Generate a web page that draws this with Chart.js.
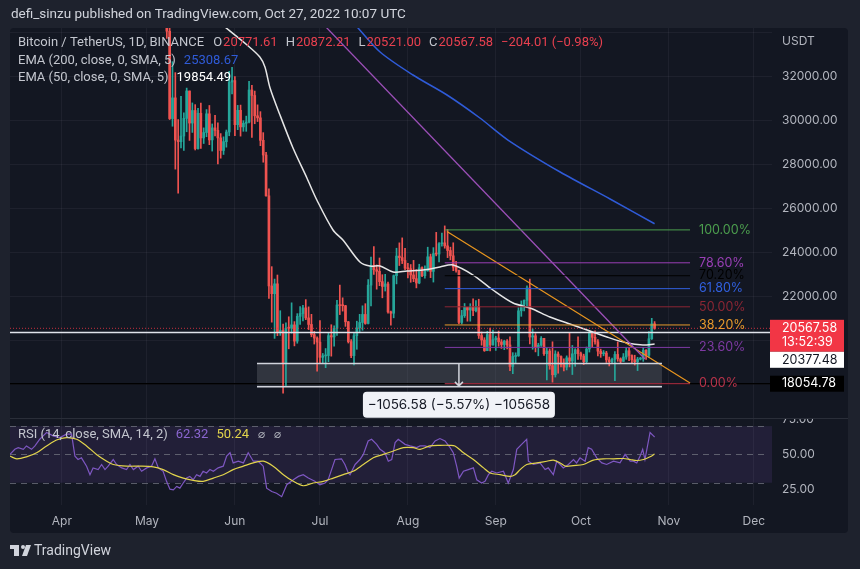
<!DOCTYPE html>
<html>
<head>
<meta charset="utf-8">
<script src="https://cdn.jsdelivr.net/npm/chart.js@4.4.0/dist/chart.umd.min.js"></script>
<style>
  html, body { margin: 0; padding: 0; background: #1e222d; }
  canvas { display: block; }
</style>
</head>
<body>
<canvas id="c" width="860" height="569"></canvas>
<script>
// days are counted from 1 Apr 2022 (day 0)
var firstDay = 34; // 5 May 2022

var opens = [
  39690,36552,36013,35472,34039,30077,31017,29103,29030,29287,30086,31329,29874,30444,28715,30319,29201,29445,30294,29110,29655,29543,29201,28630,29032,29468,31734,
  31802,29800,30452,29700,29865,29919,31373,31125,30204,30110,29091,28425,26574,22488,22136,22584,20401,20468,18970,20574,20573,20723,19987,21110,21237,21492,21038,20742,20281,20124,
  19943,19252,19315,19331,20235,20175,20564,21624,21595,21591,20862,19963,19328,20234,20588,20831,21196,20786,22525,23410,23223,23152,22684,22465,22579,21311,21251,22953,23842,23774,23643,
  23296,23269,22988,22818,22622,23313,22955,23175,23810,23149,23954,23934,24403,24441,24305,24094,23854,23342,23191,20834,21140,21516,21400,21529,21368,21559,20241,20037,19555,20285,19811,
  20050,20127,19952,19832,19986,19812,18837,19290,19319,21361,21652,21836,22396,20173,20227,19701,19803,20113,19417,19538,18876,18461,19401,19289,18920,18807,19227,19080,19412,19591,
  19422,19310,19056,19629,20337,20158,19955,19531,19417,19446,19138,19053,19158,19383,19185,19068,19268,19550,19334,19139,19053,19172,19208,19567,19345,20095,20771.61
];
var highs = [
  39845,36675,36146,35502,34243,32659,32162,30033,31083,30343,31460,31329,30788,30709,30545,30777,29656,30487,30672,29834,30223,29885,29397,29250,29560,32222,32399,
  31982,30677,30689,29982,30189,31765,31589,31325,30700,30392,29440,28544,26895,23363,22800,22984,21365,20758,20815,21090,21723,20871,21233,21558,21614,21868,21540,21200,20432,20179,
  20918,19426,19650,20357,20730,20675,21839,22527,21950,21608,20880,20055,20366,20890,21200,21588,21684,22777,23800,24276,23442,23756,22998,23014,22666,21347,22986,24199,24442,24668,24194,
  23509,23459,23648,23226,23472,23354,23400,24245,23933,24226,24918,24456,24888,25211,25050,24247,24446,23600,23208,21382,21692,21522,21684,21900,21819,21886,20402,20142,20433,20575,20490,
  20208,20444,20057,20029,20055,20180,19464,19457,21500,21809,21860,22488,22799,20541,20330,19890,20189,20113,19686,19634,19956,19550,19500,19316,19180,19318,20385,19790,19645,20185,
  19484,19395,19719,20475,20365,20456,20060,19623,19559,19525,19264,19216,19513,19952,19228,19424,19690,19705,19361,19347,19250,19248,19700,19601,20415,21020,20872.21
];
var lows = [
  35571,35258,34785,33714,30033,29730,27785,26700,28751,28630,29480,29087,29450,28654,28693,28730,28947,29255,28894,28604,29295,28019,28282,28450,28781,29299,31200,
  29301,29575,29282,29500,29500,29880,29218,29844,29944,28850,28099,26560,21925,20846,20111,20232,20246,17622,17960,19637,20348,19770,19890,20740,20906,20960,20510,20183,19854,18626,
  18975,18975,18781,19055,19304,19761,20249,21189,21347,20655,19900,19240,18910,19616,20382,20478,20750,20763,21581,23012,22342,22500,21950,22257,21250,20706,21043,22582,23414,23502,23227,
  22850,22654,22681,22400,22587,22909,22841,23154,22865,22664,23852,23583,24296,24200,23773,23671,23180,23110,20783,20761,21060,20890,20890,21145,21310,20107,19800,19521,19550,19540,19800,
  19565,19754,19656,19600,19636,18649,18510,19011,19297,21111,21350,21538,19860,19617,19497,19320,19748,19338,18232,18711,18125,18356,18531,18817,18634,18680,18816,18471,18843,19155,
  19159,18920,18959,19490,19730,19853,19320,19250,19320,19020,18860,18993,18190,19070,18975,19063,19160,19095,19000,18900,18650,19132,19070,19157,19240,20060,20521.00
];
var closes = [
  36552,36013,35472,34039,30077,31017,29103,29030,29287,30086,31329,29874,30444,28715,30319,29201,29445,30294,29110,29655,29543,29201,28630,29032,29468,31734,31802,
  29800,30452,29700,29865,29919,31373,31125,30204,30110,29091,28425,26574,22488,22136,22584,20401,20468,18970,20574,20573,20723,19987,21110,21237,21492,21038,20742,20281,20124,19943,
  19252,19315,19331,20235,20175,20564,21624,21595,21591,20862,19963,19328,20234,20588,20831,21196,20786,22525,23410,23223,23152,22684,22465,22579,21311,21251,22953,23842,23774,23643,23293,
  23269,22988,22818,22622,23313,22955,23175,23810,23149,23954,23934,24403,24441,24305,24094,23854,23342,23191,20834,21140,21516,21400,21529,21368,21559,20241,20037,19555,20285,19811,20050,
  20127,19952,19832,19986,19812,18837,19290,19319,21361,21652,21836,22396,20173,20227,19701,19803,20113,19417,19538,18876,18461,19401,19289,18920,18807,19227,19080,19412,19591,19422,
  19310,19056,19629,20337,20158,19955,19531,19417,19446,19138,19053,19158,19383,19185,19068,19268,19550,19334,19139,19053,19172,19208,19567,19345,20095,20772,20567.58
];

var ema200Days = [104.1, 112.2, 123.8, 135.8, 147.4, 157.3, 175.7, 193.3, 209];
var ema200Vals = [34231, 33097, 32054, 31147, 30104, 29106, 27655, 26431, 25308.67];

var ema50Days = [57.5, 65.3, 69.8, 71.6, 73.4, 76.9, 81.5, 86.4, 89.9, 95.6, 99.1, 105.1, 108.6, 112.2, 116.8, 121.7, 127.3, 133.3, 137.9, 145.0, 152.0, 159.1, 165.1, 172.1, 178.1, 185.2, 192.2, 199.3, 204.9, 209];
var ema50Vals = [34231, 33415, 32871, 32417, 31465, 30240, 28744, 27383, 26385, 25025, 24571, 23574, 23392, 23392, 23120, 23166, 23211, 23347, 23438, 22984, 22304, 21714, 21488, 21079, 20807, 20490, 20172, 19900, 19810, 19854.49];

var rsiDays = [-18.3,-16.6,-15.4,-13.6,-12.5,-10.7,-9.5,-7.8,-6.6,-5.4,-3.1,-0.7,1.6,3.4,4.6,5.7,6.9,8.7,9.9,11.0,12.8,14.0,15.2,16.3,18.1,19.3,21.1,22.8,24.0,25.2,26.9,28.1,29.9,31.6,32.8,34.0,35.7,36.9,38.1,39.3,40.5,41.6,42.8,44.0,45.1,46.3,47.5,48.7,49.8,51.0,52.2,53.4,55.1,56.9,58.1,59.3,60.4,62.2,64.0,65.7,67.5,69.2,71.0,72.2,74.0,75.7,77.5,79.3,81.6,83.4,85.1,86.9,89.2,91.0,92.8,93.9,95.1,96.3,98.6,99.8,101.0,101.6,103.4,105.1,106.3,108.0,109.2,111.0,112.2,113.9,115.1,116.3,117.5,118.6,121.0,122.8,125.1,126.3,128.0,129.8,131.6,133.3,135.1,136.9,138.0,139.2,140.1,141.6,143.3,145.1,146.3,148.0,149.2,150.4,151.6,153.3,155.7,157.4,159.2,160.4,162.1,163.9,164.5,166.3,168.6,170.4,171.5,173.3,174.5,175.7,176.8,178.6,180.4,181.5,182.7,184.5,185.6,186.8,188.6,190.4,192.1,194.5,196.8,198.6,200.4,201.5,202.7,203.9,204.8,205.6,207.4,208.6,209];
var rsiVals = [50.0,53.6,54.8,53.6,56.0,53.6,56.0,60.7,63.1,65.5,63.1,61.9,64.3,64.3,48.8,46.4,47.6,41.7,35.7,40.5,39.3,42.9,39.3,41.7,46.4,42.9,40.5,39.3,42.9,39.3,41.7,38.1,40.5,41.7,46.9,40.5,38.1,31.0,25.5,25.0,27.4,26.2,29.8,33.3,34.5,32.1,35.7,34.5,38.1,36.9,39.3,38.1,40.5,41.7,48.8,51.2,44.0,45.2,44.0,51.2,45.2,45.2,41.7,26.2,23.8,22.6,20.2,28.6,32.1,34.5,35.7,33.3,31.0,28.6,29.8,32.1,39.3,46.4,46.9,42.9,36.9,35.7,42.9,46.4,50.0,59.5,60.7,57.1,53.6,51.2,45.2,46.4,58.3,60.7,57.1,56.0,54.8,56.0,56.0,54.8,59.5,61.2,59.5,54.8,51.2,41.7,33.3,38.1,39.3,40.5,32.1,29.8,31.0,35.7,38.1,36.9,38.1,29.8,39.3,53.6,57.1,60.7,45.2,42.9,44.0,39.3,40.5,35.7,45.2,42.9,40.5,42.9,46.4,44.0,47.6,45.2,54.8,53.6,47.6,44.0,42.9,45.2,44.0,50.0,45.2,45.2,44.0,48.8,53.6,46.4,65.5,63.1,62.32];

var rsiMaDays = [-18.3,-15.9,-12.5,-8.9,-5.4,-1.9,1.6,5.2,8.7,12.2,15.8,18.1,22.8,27.5,32.2,35.7,39.3,42.8,46.3,49.8,53.4,56.9,60.4,64.0,67.5,71.0,74.5,78.1,81.6,85.1,88.6,92.2,95.7,99.2,102.7,106.3,109.8,113.3,116.9,120.4,123.9,126.3,129.8,133.3,136.9,138.6,141.6,145.1,148.7,151.0,154.5,158.0,159.8,161.6,163.9,167.5,171.0,173.3,175.7,177.5,180.4,183.9,187.4,190.9,194.5,198.0,200.4,202.7,205.1,207.4,209];
var rsiMaVals = [48.8,46.9,48.3,51.2,56.0,60.2,61.9,60.7,56.0,50.0,45.2,42.9,41.7,41.7,41.2,39.3,35.7,33.3,31.7,31.0,33.3,35.7,39.3,41.7,44.0,45.2,41.7,35.7,31.0,27.9,29.8,31.0,33.3,35.7,38.1,42.9,47.6,50.0,52.4,54.8,54.8,53.6,56.0,56.4,56.4,56.0,51.2,46.4,40.5,36.9,35.7,34.5,35.7,39.3,42.9,44.0,45.2,46.0,44.0,41.7,42.1,42.9,46.0,46.9,46.9,47.1,46.4,45.7,46.4,48.3,50.24];

var monthDays = [0, 30, 61, 91, 122, 153, 183, 214, 244];
var monthLabels = ['Apr', 'May', 'Jun', 'Jul', 'Aug', 'Sep', 'Oct', 'Nov', 'Dec'];
var priceGrid = [18000, 20000, 22000, 24000, 26000, 28000, 30000, 32000, 34000];
var priceLabels = [22000, 24000, 26000, 28000, 30000, 32000];
var rsiTicks = [25, 50, 75];

var fibRatios = [0, 0.236, 0.382, 0.5, 0.618, 0.702, 0.786, 1];
var fibLabels = ['0.00%', '23.60%', '38.20%', '50.00%', '61.80%', '70.20%', '78.60%', '100.00%'];
var fibLow = 18054.78, fibHigh = 25030;
var fibDays = [135, 221.5];

var purpleDays = [93.1, 205.6], purplePrices = [34231, 19175];
var orangeDays = [135.8, 221.5], orangePrices = [24961, 18086];

var lastPrice = 20567.58;
var whiteLevel = 20377.48;
var blackLevel = 18054.78;

var measureDays = [68.8, 211.6], measurePrices = [18969, 17912.42], measureArrowDay = 140;

var xMin = -18.3, xMax = 250.4;
var yMin = 16500, yMax = 34185;

// ---- styles ----
var UP = '#26a69a', DOWN = '#ef5350';
var GRID = 'rgba(240,243,250,0.05)';
var fibColors = ['#b8334a', '#7e3aa3', '#e89a2c', '#8c2634', '#3160e0', '#000000', '#9a3fb6', '#4c9e4e'];
var TXT = "Roboto, 'Noto Sans', sans-serif";

Chart.defaults.font.family = "Inter, 'Noto Sans', sans-serif";
Chart.defaults.font.size = 12;
Chart.defaults.color = '#b2b5be';

function pts(days, vals) {
    return days.map(function (d, i) { return { x: d, y: vals[i] }; });
}
function candleColor(ctx) {
    var i = ctx.dataIndex;
    return closes[i] >= opens[i] ? UP : DOWN;
}
function lineSet(data, color, width, order, extra) {
    var ds = { type: 'line', data: data, borderColor: color, borderWidth: width, pointRadius: 0, fill: false, order: order, yAxisID: 'y' };
    for (var k in extra) ds[k] = extra[k];
    return ds;
}

var datasets = [];
fibRatios.forEach(function (r, i) {
    var p = fibLow + r * (fibHigh - fibLow);
    datasets.push(lineSet(pts(fibDays, [p, p]), fibColors[i], 1, 0));
});
datasets.push(lineSet(pts(purpleDays, purplePrices), '#9c4fb8', 1.3, 0));
datasets.push(lineSet(pts(orangeDays, orangePrices), '#e8951e', 1.2, 0));
datasets.push(lineSet(pts([xMin, xMax], [lastPrice, lastPrice]), 'rgba(242,54,69,0.8)', 1, 0, { borderDash: [1, 2] }));
datasets.push(lineSet(pts([xMin, xMax], [whiteLevel, whiteLevel]), '#e0e3eb', 1.5, 0));
datasets.push(lineSet(pts([xMin, xMax], [blackLevel, blackLevel]), '#000000', 1.5, 5));
datasets.push(lineSet(pts(ema200Days, ema200Vals), '#2f5bd8', 1.5, 1, { tension: 0.3 }));
datasets.push(lineSet(pts(ema50Days, ema50Vals), '#e6e6e6', 1.5, 1, { tension: 0.3 }));
datasets.push({
    type: 'bar', yAxisID: 'y', order: 2, grouped: false, barThickness: 2, minBarLength: 1, borderWidth: 0,
    data: opens.map(function (o, i) { return { x: firstDay + i, y: [o, closes[i]] }; }),
    backgroundColor: candleColor
});
datasets.push({
    type: 'bar', yAxisID: 'y', order: 3, grouped: false, barThickness: 1, minBarLength: 1, borderWidth: 0,
    data: opens.map(function (o, i) { return { x: firstDay + i, y: [lows[i], highs[i]] }; }),
    backgroundColor: candleColor
});
datasets.push({ type: 'line', yAxisID: 'rsi', order: 1, data: pts(rsiDays, rsiVals), borderColor: '#7e57c2', borderWidth: 1.2, pointRadius: 0, fill: false });
datasets.push({ type: 'line', yAxisID: 'rsi', order: 0, data: pts(rsiMaDays, rsiMaVals), borderColor: '#e2d44c', borderWidth: 1.2, pointRadius: 0, fill: false, tension: 0.3 });

function txt(c, s, x, y, color, font, align) {
    c.font = font || ("13px " + TXT);
    c.fillStyle = color;
    c.textAlign = align || 'left';
    c.textBaseline = 'middle';
    c.fillText(s, x, y);
    return x + c.measureText(s).width;
}
// draw pieces one after another: [text, colour, gap after]
function row(c, parts, x, y, font) {
    parts.forEach(function (p) {
        x = txt(c, p[0], x, y, p[1], font) + (p[2] || 0);
    });
}

var overlay = {
    id: 'overlay',
    beforeDraw: function (chart) {
        var c = chart.ctx, a = chart.chartArea, sx = chart.scales.x, sy = chart.scales.y, sr = chart.scales.rsi;
        c.save();
        c.fillStyle = '#1e222d';
        c.fillRect(0, 0, chart.width, chart.height);
        c.fillStyle = '#131722';
        c.beginPath();
        c.roundRect(a.left, a.top, sy.right - a.left, sx.bottom - a.top, 4);
        c.fill();
        // rsi band
        var y70 = sr.getPixelForValue(70), y30 = sr.getPixelForValue(30);
        c.fillStyle = 'rgba(126,87,194,0.14)';
        c.fillRect(a.left, y70, a.right - a.left, y30 - y70);
        c.restore();
    },
    beforeDatasetsDraw: function (chart) {
        var c = chart.ctx, a = chart.chartArea, sx = chart.scales.x, sy = chart.scales.y, sr = chart.scales.rsi;
        c.save();
        // main pane covers the top half of the 75.00 label, as in the original
        c.fillStyle = '#131722';
        c.fillRect(sy.left, sr.top - 12, sy.right - sy.left, 12);
        // pane separator
        c.strokeStyle = '#2a2e39';
        c.lineWidth = 1;
        c.beginPath();
        c.moveTo(a.left, Math.round(sr.top) + 0.5);
        c.lineTo(sy.right, Math.round(sr.top) + 0.5);
        c.stroke();
        // rsi dashed levels
        c.strokeStyle = 'rgba(120,123,134,0.7)';
        c.setLineDash([6, 5]);
        [70, 50, 30].forEach(function (v) {
            var y = Math.round(sr.getPixelForValue(v)) + 0.5;
            c.beginPath();
            c.moveTo(a.left, y);
            c.lineTo(a.right - 6, y);
            c.stroke();
        });
        c.setLineDash([]);
        // measurement box
        var x0 = sx.getPixelForValue(measureDays[0]), x1 = sx.getPixelForValue(measureDays[1]);
        var yt = sy.getPixelForValue(measurePrices[0]), yb = sy.getPixelForValue(measurePrices[1]);
        c.fillStyle = 'rgba(120,123,134,0.30)';
        c.fillRect(x0, yt, x1 - x0, yb - yt);
        c.restore();
    },
    afterDatasetsDraw: function (chart) {
        var c = chart.ctx, sx = chart.scales.x, sy = chart.scales.y;
        c.save();
        var x0 = sx.getPixelForValue(measureDays[0]), x1 = sx.getPixelForValue(measureDays[1]);
        var yt = sy.getPixelForValue(measurePrices[0]), yb = sy.getPixelForValue(measurePrices[1]);
        c.strokeStyle = '#d1d4dc';
        c.lineWidth = 1.5;
        c.beginPath();
        c.moveTo(x0, yt); c.lineTo(x1, yt);
        c.moveTo(x0, yb); c.lineTo(x1, yb);
        var xa = sx.getPixelForValue(measureArrowDay);
        c.moveTo(xa, yt); c.lineTo(xa, yb - 1);
        c.moveTo(xa - 4, yb - 5); c.lineTo(xa, yb - 1); c.lineTo(xa + 4, yb - 5);
        c.stroke();
        // fib labels
        var xl = sx.getPixelForValue(fibDays[1]) + 9;
        fibRatios.forEach(function (r, i) {
            var p = fibLow + r * (fibHigh - fibLow);
            txt(c, fibLabels[i], xl, sy.getPixelForValue(p), fibColors[i], "12.5px Inter");
        });
        // measurement label
        var lw = 192, lh = 26, ly = yb + 5;
        c.fillStyle = '#f0f2f7';
        c.beginPath();
        c.roundRect(xa - lw / 2, ly, lw, lh, 4);
        c.fill();
        txt(c, '\u22121056.58 (\u22125.57%) \u2212105658', xa, ly + lh / 2, '#131722', "13.5px Inter", 'center');
        c.restore();
    },
    afterDraw: function (chart) {
        var c = chart.ctx, sy = chart.scales.y;
        c.save();
        // header
        txt(c, 'defi_sinzu published on TradingView.com, Oct 27, 2022 10:07 UTC', 11, 15, '#d1d4dc', "13.5px " + TXT);
        // legend
        var lg = '#c3c6ce', red = '#e8404f';
        row(c, [['Bitcoin / TetherUS, 1D, BINANCE', lg, 9],
                ['O', lg, 1], ['20771.61', red, 8],
                ['H', lg, 1], ['20872.21', red, 8],
                ['L', lg, 1], ['20521.00', red, 8],
                ['C', lg, 1], ['20567.58', red, 8],
                ['\u2212204.01 (\u22120.98%)', red, 0]], 18, 43, "13px " + TXT);
        row(c, [['EMA (200, close, 0, SMA, 5)', lg, 8], ['25308.67', '#2f5bd8', 0]], 18, 61, "13px " + TXT);
        row(c, [['EMA (50, close, 0, SMA, 5)', lg, 8], ['19854.49', '#ffffff', 0]], 18, 78, "13px " + TXT);
        // rsi legend
        row(c, [['RSI (14, close, SMA, 14, 2)', lg, 8], ['62.32', '#8b66d0', 8], ['50.24', '#e2d44c', 8]], 18, 435, "13px " + TXT);
        txt(c, '\u2300', 258, 435, '#b2b5be', "12px 'DejaVu Sans'");
        txt(c, '\u2300', 274, 435, '#b2b5be', "12px 'DejaVu Sans'");
        // price axis
        var lx = sy.left + 10, bx = sy.left - 2, bw = sy.right - sy.left - 2;
        txt(c, 'USDT', lx, 41, '#b2b5be', "12px Inter");
        var yr = sy.getPixelForValue(lastPrice);
        c.fillStyle = '#f23645';
        c.fillRect(bx, yr - 8.5, bw, 32);
        txt(c, '20567.58', lx, yr, '#ffffff', "12.5px Inter");
        txt(c, '13:52:39', lx, yr + 14, '#ffffff', "12.5px Inter");
        var yw = Math.max(sy.getPixelForValue(whiteLevel) - 8, yr + 23.5);
        c.fillStyle = '#ffffff';
        c.fillRect(bx, yw, bw, 16);
        txt(c, '20377.48', lx, yw + 8, '#131722', "12.5px Inter");
        var yk = sy.getPixelForValue(blackLevel);
        c.fillStyle = '#000000';
        c.fillRect(bx, yk - 8, bw, 16);
        txt(c, '18054.78', lx, yk, '#ffffff', "12.5px Inter");
        // footer logo
        c.fillStyle = '#d1d4dc';
        c.fillRect(10, 545, 9, 4);
        c.fillRect(14, 545, 5, 11);
        c.beginPath(); c.arc(23, 547, 2, 0, Math.PI * 2); c.fill();
        c.beginPath();
        c.moveTo(26, 545); c.lineTo(31, 545); c.lineTo(27, 556); c.lineTo(22, 556);
        c.closePath(); c.fill();
        txt(c, 'TradingView', 34, 551, '#d1d4dc', "14px " + TXT);
        c.restore();
    }
};

new Chart(document.getElementById('c'), {
    type: 'bar',
    data: { datasets: datasets },
    options: {
        responsive: false,
        animation: false,
        devicePixelRatio: 1,
        events: [],
        layout: { padding: { left: 10, top: 28, right: 12, bottom: 36 } },
        plugins: { legend: { display: false }, tooltip: { enabled: false } },
        scales: {
            x: {
                type: 'linear', min: xMin, max: xMax, offset: false,
                grid: { color: GRID, drawTicks: false, offset: false },
                border: { display: false },
                afterBuildTicks: function (s) { s.ticks = monthDays.map(function (d) { return { value: d }; }); },
                ticks: {
                    padding: 9, maxRotation: 0, autoSkip: false, color: '#b2b5be',
                    callback: function (v) { return monthLabels[monthDays.indexOf(v)]; }
                },
                afterFit: function (s) { s.height = 28; }
            },
            y: {
                type: 'linear', position: 'right', stack: 'pane', stackWeight: 390, min: yMin, max: yMax,
                grid: { color: GRID, drawTicks: false },
                border: { display: false },
                afterBuildTicks: function (s) { s.ticks = priceGrid.map(function (v) { return { value: v }; }); },
                ticks: {
                    padding: 10, color: '#b2b5be',
                    callback: function (v) { return priceLabels.indexOf(v) >= 0 ? v.toFixed(2) : ''; }
                },
                afterFit: function (s) { s.width = 76; }
            },
            rsi: {
                type: 'linear', position: 'right', stack: 'pane', stackWeight: 87, min: 14.3, max: 75.7,
                grid: { display: false, drawTicks: false },
                border: { display: false },
                afterBuildTicks: function (s) { s.ticks = rsiTicks.map(function (v) { return { value: v }; }); },
                ticks: {
                    padding: 10, color: '#b2b5be',
                    callback: function (v) { return v.toFixed(2); }
                },
                afterFit: function (s) { s.width = 76; }
            }
        }
    },
    plugins: [overlay]
});
</script>
</body>
</html>
